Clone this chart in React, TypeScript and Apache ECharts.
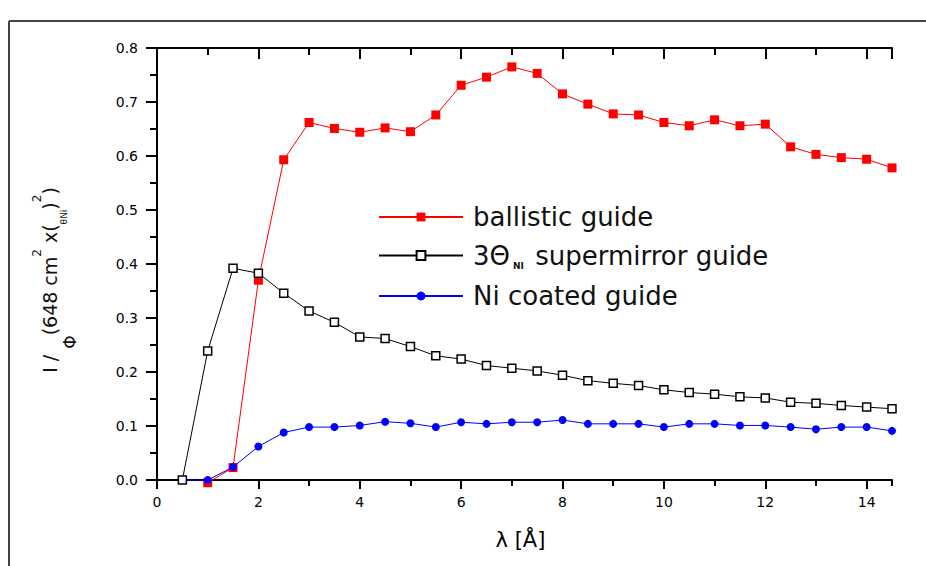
import React, { useEffect, useRef } from "react";
import * as echarts from "echarts";

const lambdaBallistic = [1, 1.5, 2, 2.5, 3, 3.5, 4, 4.5, 5, 5.5, 6, 6.5, 7, 7.5, 8, 8.5, 9, 9.5, 10, 10.5, 11, 11.5, 12, 12.5, 13, 13.5, 14, 14.5];
const ballistic = [-0.005, 0.023, 0.37, 0.593, 0.662, 0.651, 0.644, 0.652, 0.645, 0.676, 0.731, 0.746, 0.765, 0.753, 0.715, 0.696, 0.678, 0.676, 0.662, 0.656, 0.667, 0.656, 0.659, 0.617, 0.603, 0.597, 0.594, 0.578];

const lambdaGuides = [0.5, 1, 1.5, 2, 2.5, 3, 3.5, 4, 4.5, 5, 5.5, 6, 6.5, 7, 7.5, 8, 8.5, 9, 9.5, 10, 10.5, 11, 11.5, 12, 12.5, 13, 13.5, 14, 14.5];
const supermirror = [0, 0.239, 0.392, 0.383, 0.346, 0.313, 0.292, 0.265, 0.262, 0.247, 0.23, 0.224, 0.212, 0.207, 0.202, 0.194, 0.184, 0.179, 0.175, 0.167, 0.162, 0.159, 0.154, 0.152, 0.144, 0.142, 0.138, 0.135, 0.132];
const niCoated = [0, 0, 0.024, 0.062, 0.088, 0.098, 0.098, 0.101, 0.108, 0.105, 0.098, 0.107, 0.104, 0.107, 0.107, 0.111, 0.104, 0.104, 0.104, 0.098, 0.104, 0.104, 0.101, 0.101, 0.098, 0.094, 0.098, 0.098, 0.091];

const seriesNames = ["ballistic guide", "3ΘNI supermirror guide", "Ni coated guide"];
const xTickLabels = ["0", "2", "4", "6", "8", "10", "12", "14"];

const FONT = "DejaVu Sans";

export default function App() {
  const ref = useRef<HTMLDivElement>(null);
  useEffect(() => {
    if (!ref.current) return;
    const chart = echarts.init(ref.current, null, { renderer: "svg" });
    const pair = (xs: number[], ys: number[]) => xs.map((x, i) => [x, ys[i]]);
    const baseX = {
      type: "value",
      min: 0,
      max: 14.5,
      splitLine: { show: false },
      gridIndex: 0,
    };
    const baseY = {
      type: "value",
      min: 0,
      max: 0.8,
      interval: 0.1,
      splitLine: { show: false },
    };
    chart.setOption({
      animation: false,
      backgroundColor: "#ffffff",
      grid: { left: 157, right: 34, top: 48, bottom: 86, containLabel: false },
      xAxis: [
        {
          ...baseX,
          position: "bottom",
          interval: 2,
          axisLine: { show: true, lineStyle: { color: "#000", width: 2 } },
          axisTick: { show: true, inside: false, length: 9, lineStyle: { color: "#000", width: 2 } },
          axisLabel: {
            show: true,
            margin: 15,
            showMaxLabel: false,
            color: "#000",
            fontFamily: FONT,
            fontSize: 14,
            formatter: (v: number) => (xTickLabels.includes(String(v)) ? String(v) : ""),
          },
          name: "λ [Å]",
          nameLocation: "middle",
          nameGap: 49,
          nameTextStyle: { color: "#000", fontFamily: FONT, fontSize: 21, padding: [0, 8, 0, 0] },
        },
        {
          ...baseX,
          position: "bottom",
          interval: 1,
          axisLine: { show: false },
          axisTick: { show: true, inside: false, length: 6, lineStyle: { color: "#000", width: 2 } },
          axisLabel: { show: false },
        },
        {
          ...baseX,
          position: "top",
          interval: 2,
          axisLine: { show: true, lineStyle: { color: "#000", width: 2 } },
          axisTick: { show: true, inside: true, length: 11, lineStyle: { color: "#000", width: 2 } },
          axisLabel: { show: false },
        },
        {
          ...baseX,
          position: "top",
          interval: 1,
          axisLine: { show: false },
          axisTick: { show: true, inside: true, length: 7, lineStyle: { color: "#000", width: 2 } },
          axisLabel: { show: false },
        },
      ],
      yAxis: [
        {
          ...baseY,
          position: "left",
          axisLine: { show: true, lineStyle: { color: "#000", width: 2 } },
          axisTick: { show: true, inside: false, length: 11, lineStyle: { color: "#000", width: 2 } },
          minorTick: { show: true, splitNumber: 2, length: 7, lineStyle: { color: "#000", width: 2 } },
          axisLabel: {
            show: true,
            margin: 19,
            color: "#000",
            fontFamily: FONT,
            fontSize: 14,
            formatter: (v: number) => v.toFixed(1),
          },
        },
        {
          ...baseY,
          position: "right",
          axisLine: { show: true, lineStyle: { color: "#000", width: 2 } },
          axisTick: { show: true, inside: true, length: 11, lineStyle: { color: "#000", width: 2 } },
          minorTick: { show: true, splitNumber: 2, length: 7, lineStyle: { color: "#000", width: 2 } },
          axisLabel: { show: false },
        },
      ],
      legend: {
        orient: "vertical",
        left: 378,
        top: 204,
        padding: 0,
        itemGap: 12.5,
        itemWidth: 84,
        itemHeight: 11,
        data: seriesNames,
        selectedMode: false,
        formatter: (name: string) => {
          if (name === seriesNames[1]) return "{f|3Θ}{sub|NI}{t| supermirror guide}";
          return "{f|" + name + "}";
        },
        textStyle: {
          color: "#111",
          fontFamily: FONT,
          fontSize: 26,
          rich: {
            f: { fontFamily: FONT, fontSize: 26, color: "#111", lineHeight: 30, padding: [0, 0, 0, 5] },
            t: { fontFamily: FONT, fontSize: 26, color: "#111", lineHeight: 30 },
            sub: { fontFamily: FONT, fontSize: 9, fontWeight: "bold", color: "#111", lineHeight: 12, verticalAlign: "bottom", padding: [0, 3, 0, 3] },
          },
        },
      },
      graphic: [
        {
          type: "line",
          z: -10,
          silent: true,
          shape: { x1: 9, y1: 21, x2: 926, y2: 21 },
          style: { stroke: "#444", lineWidth: 2 },
        },
        {
          type: "line",
          z: -10,
          silent: true,
          shape: { x1: 9, y1: 21, x2: 9, y2: 566 },
          style: { stroke: "#444", lineWidth: 2 },
        },
        {
          type: "text",
          x: 50,
          y: 280,
          rotation: Math.PI / 2,
          silent: true,
          style: {
            text: "{m|I / }{sub|Φ}{m|(648 cm}{sup|2}{m| x(}{ssub|θNi}{m|)}{sup|2}{m|)}",
            align: "center",
            verticalAlign: "middle",
            fill: "#111",
            rich: {
              m: { fontFamily: FONT, fontSize: 19, fill: "#111", lineHeight: 56 },
              sub: { fontFamily: FONT, fontSize: 17, fill: "#111", verticalAlign: "bottom" },
              sup: { fontFamily: FONT, fontSize: 12, fill: "#111", verticalAlign: "top", padding: [9, 0, 0, 0] },
              ssub: { fontFamily: FONT, fontSize: 9, fill: "#111", verticalAlign: "bottom", padding: [0, 0, 10, 0] },
            },
          },
        },
      ],
      series: [
        {
          name: seriesNames[0],
          type: "line",
          xAxisIndex: 0,
          yAxisIndex: 0,
          z: 1,
          clip: false,
          data: pair(lambdaBallistic, ballistic),
          symbol: "rect",
          symbolSize: 9,
          itemStyle: { color: "#ff0000" },
          lineStyle: { color: "#ff0000", width: 1 },
        },
        {
          name: seriesNames[1],
          type: "line",
          xAxisIndex: 0,
          yAxisIndex: 0,
          z: 3,
          clip: false,
          data: pair(lambdaGuides, supermirror),
          symbol: "rect",
          symbolSize: 8,
          itemStyle: { color: "#ffffff", borderColor: "#000000", borderWidth: 1.5 },
          lineStyle: { color: "#000000", width: 1 },
        },
        {
          name: seriesNames[2],
          type: "line",
          xAxisIndex: 0,
          yAxisIndex: 0,
          z: 2,
          clip: false,
          data: pair(lambdaGuides, niCoated),
          symbol: "circle",
          symbolSize: 8,
          itemStyle: { color: "#0000ff" },
          lineStyle: { color: "#0000ff", width: 1 },
        },
      ],
    });
    return () => chart.dispose();
  }, []);
  return (
    <div
      ref={ref}
      style={{ position: "fixed", left: 0, top: 0, width: 926, height: 566, background: "#fff" }}
    />
  );
}
